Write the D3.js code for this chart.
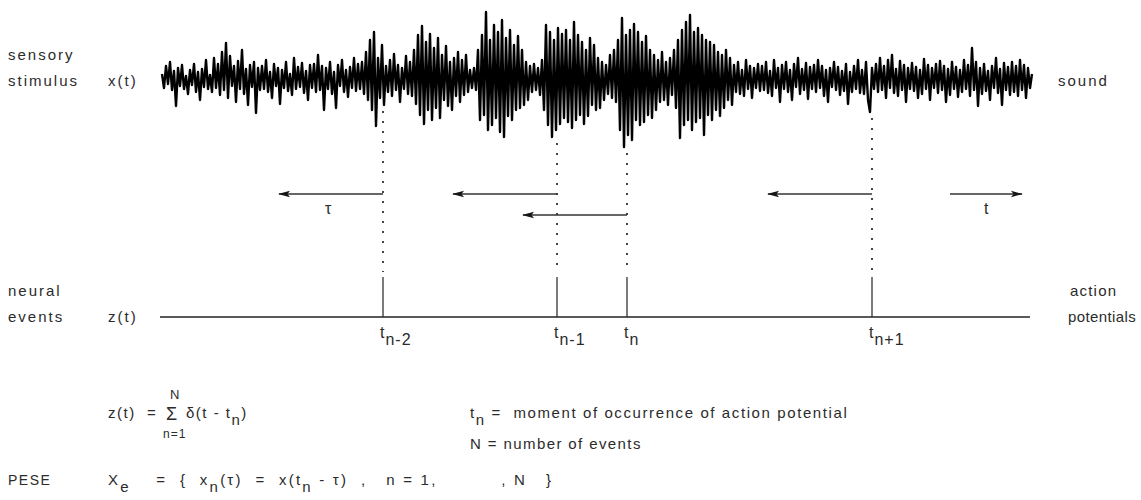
<!DOCTYPE html>
<html>
<head>
<meta charset="utf-8">
<script src="https://cdn.jsdelivr.net/npm/d3@7"></script>
<style>
  html, body { margin: 0; padding: 0; background: #fff; }
  svg { display: block; }
  text { font-family: "Liberation Sans", Arial, sans-serif; fill: #2b2b2b; white-space: pre; }
</style>
</head>
<body>
<svg id="fig" width="1141" height="500"></svg>
<script>
// Sound pressure samples x(t), read in three stretches (amplitude units, + = up)
const signalQuietStart = [
  6,-8,14,-4,18,-10,9,-26,12,-6,15,-9,4,-14,10,-5,16,-12,8,-20,11,-7,20,-9,5,
  -12,22,-8,16,-15,28,-10,37,-18,24,-6,14,-22,19,-9,30,-14,11,-25,15,-7,18,-33,12,-10,
  14,-9,20,-12,8,-18,16,-6,12,-24,10,-8,18,-11,6,-15,22,-9,13,-7,17,-13,9,-20,15,
  -8,16,-12,25,-10,14,-30,12,-9,18,-14,8,-28,15,-6,20,-12,10,-17,13,-8,22,-11,16,-9
];
const signalBurst = [
  18,-14,28,-20,40,-30,48,-46,22,-18,35,-25,14,-12,20,-16,26,-10,15,-22,12,-9,24,-14,18,
  -16,30,-24,45,-35,54,-44,38,-30,46,-40,32,-28,42,-38,25,-20,34,-26,18,-30,22,-16,28,-22,
  20,-15,25,-12,10,-8,12,-10,30,-40,45,-35,68,-50,40,-45,55,-38,48,-52,60,-57,42,-36,50,
  -40,35,-30,44,-28,30,-25,18,-20,14,-12,16,-10,12,-15,20,-30,55,-45,48,-57,40,-50,52,-44,
  46,-38,50,-42,40,-48,58,-40,45,-35,38,-44,30,-36,42,-25,35,-30,22,-28,18,-20,15,-14,25,
  -18,30,-22,40,-50,62,-67,45,-55,50,-60,56,-40,48,-45,38,-42,44,-35,30,-38,25,-30,20,-22,
  28,-20,18,-25,22,-15,30,-28,40,-58,50,-45,58,-40,65,-50,48,-42,52,-38,45,-55,40,-35,38,
  -40,35,-30,28,-36,25,-28,30,-20,22,-25,15,-12,18,-14,10,-16,20,-9,14,-18,12,-8,16,-11
];
const signalQuietEnd = [
  14,-10,18,-13,9,-16,20,-8,12,-22,15,-9,18,-12,10,-20,16,-7,22,-14,11,-10,17,-19,13,
  -9,15,-12,20,-8,14,-16,10,-22,12,-7,18,-10,13,-15,9,-11,16,-24,8,-12,14,-9,20,-13,
  10,-14,18,-20,-32,12,-9,16,-12,22,-10,14,-18,20,-8,25,-13,11,-16,19,-10,15,-22,12,-9,
  17,-11,13,-18,10,-14,21,-9,15,-20,12,-8,16,-13,19,-10,14,-22,11,-15,18,-9,13,-17,10,
  -12,20,-9,15,-16,32,-10,18,-26,12,-14,16,-11,9,-20,14,-8,22,-13,11,-25,17,-10,13,-15,
  18,-12,14,-16,20,-10,15,-18,12,-8,6
];

// Action potential times (sample index) and their subscripts
const eventTimes = [110.5, 197.5, 232.5, 355];
const eventSubs = ["n-2", "n-1", "n", "n+1"];
const eventArrowRow = [0, 0, 1, 0];
const tauWindow = 52;          // length of the pre-event window, samples
const timeArrow = [394, 430];  // forward time arrow, samples

const signal = signalQuietStart.concat(signalBurst, signalQuietEnd);

const svg = d3.select("#fig");

const x = d3.scaleLinear().domain([0, signal.length - 1]).range([162, 1032]);
const y = d3.scaleLinear().domain([-80, 80]).range([160, 0]);

const ink = "#161616";
const rowArrowY = [194, 215];
const spikeTop = 277, spikeBase = 317;

// arrowheads
const defs = svg.append("defs");
defs.append("marker")
  .attr("id", "head")
  .attr("viewBox", "0 0 12 8")
  .attr("refX", 11).attr("refY", 4)
  .attr("markerWidth", 12).attr("markerHeight", 8)
  .attr("markerUnits", "userSpaceOnUse")
  .attr("orient", "auto")
  .append("path")
  .attr("d", "M0,0.8 L12,4 L0,7.2 L2.5,4 Z")
  .attr("fill", ink);

// dotted guides from the sound trace down to the spikes
const guides = svg.append("g");
eventTimes.forEach(t => {
  const i0 = Math.max(0, Math.floor(t) - 2), i1 = Math.min(signal.length - 1, Math.ceil(t) + 2);
  const low = d3.min(signal.slice(i0, i1 + 1));
  guides.append("line")
    .attr("x1", x(t)).attr("x2", x(t))
    .attr("y1", y(low) + 6).attr("y2", spikeTop - 5)
    .attr("stroke", ink).attr("stroke-width", 1.6)
    .attr("stroke-dasharray", "2,8");
});

// sound pressure trace
const line = d3.line().x((d, i) => x(i)).y(d => y(d));
svg.append("path")
  .datum(signal)
  .attr("d", line)
  .attr("fill", "none")
  .attr("stroke", "#000")
  .attr("stroke-width", 2.4)
  .attr("stroke-linejoin", "round");

// pre-event windows (arrows pointing back in time)
eventTimes.forEach((t, k) => {
  svg.append("line")
    .attr("x1", x(t)).attr("x2", x(t - tauWindow))
    .attr("y1", rowArrowY[eventArrowRow[k]]).attr("y2", rowArrowY[eventArrowRow[k]])
    .attr("stroke", "#333").attr("stroke-width", 1.3)
    .attr("marker-end", "url(#head)");
});
svg.append("line")
  .attr("x1", x(timeArrow[0])).attr("x2", x(timeArrow[1]))
  .attr("y1", rowArrowY[0]).attr("y2", rowArrowY[0])
  .attr("stroke", "#333").attr("stroke-width", 1.3)
  .attr("marker-end", "url(#head)");

// spike train z(t)
svg.append("line")
  .attr("x1", x(-1)).attr("x2", x(434))
  .attr("y1", spikeBase).attr("y2", spikeBase)
  .attr("stroke", "#222").attr("stroke-width", 1.3);
svg.append("g").selectAll("line").data(eventTimes).join("line")
  .attr("x1", d => x(d)).attr("x2", d => x(d))
  .attr("y1", spikeTop).attr("y2", spikeBase)
  .attr("stroke", "#222").attr("stroke-width", 1.2);

// text with optional subscripts
function rich(px, py, parts, size, spacing) {
  const t = svg.append("text").attr("x", px).attr("y", py)
    .attr("xml:space", "preserve")
    .style("font-size", size + "px")
    .style("letter-spacing", (spacing == null ? 1.5 : spacing) + "px");
  let shift = 0;
  parts.forEach(p => {
    const s = p.sub ? 7 : 0;
    t.append("tspan")
      .attr("dy", s - shift)
      .style("font-size", (p.size || size) + "px")
      .text(p.t);
    shift = s;
  });
  return t;
}
const plain = (px, py, str, size, spacing) => rich(px, py, [{ t: str }], size, spacing);

// side labels
plain(8, 60, "sensory", 15, 2);
plain(8, 86, "stimulus", 15, 2);
plain(108, 86, "x(t)", 15, 2);
plain(1058, 86, "sound", 15, 2);
plain(8, 296, "neural", 15, 2);
plain(8, 322, "events", 15, 2);
plain(108, 322, "z(t)", 15, 2);
plain(1070, 296, "action", 15, 1.2);
plain(1068, 322, "potentials", 15, 0.4);

// arrow labels
plain(325, 214, "τ", 16, 0);
plain(984, 214, "t", 16, 0);

// event labels
eventTimes.forEach((t, k) => {
  rich(x(t) - 3, 338, [{ t: "t" }, { t: eventSubs[k], sub: true }], 16, 1);
});

// definitions
rich(108, 418, [{ t: "z(t)  =" }], 15, 1.5);
plain(166, 420, "Σ", 18, 0);
plain(170, 399, "N", 13, 0);
plain(163, 438, "n=1", 12, 1);
rich(186, 418, [{ t: "δ(t - t" }, { t: "n", sub: true }, { t: ")" }], 15, 1.5);

rich(470, 418, [{ t: "t" }, { t: "n", sub: true }, { t: " =  moment of occurrence of action potential" }], 15, 1.6);
plain(470, 449, "N = number of events", 15, 1.4);

plain(8, 485, "PESE", 14, 1.5);
rich(108, 485, [
  { t: "X" }, { t: "e", sub: true },
  { t: "    =  {  x" }, { t: "n", sub: true }, { t: "(τ)  =  x(t" }, { t: "n", sub: true },
  { t: " - τ)  ,   n = 1,          , N   }" }
], 15, 2.2);
</script>
</body>
</html>
